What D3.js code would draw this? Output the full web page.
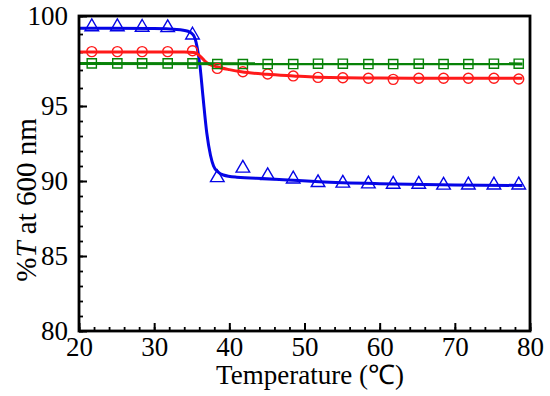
<!DOCTYPE html>
<html>
<head>
<meta charset="utf-8">
<script src="https://cdn.jsdelivr.net/npm/d3@7"></script>
<style>
  body { margin: 0; background: #fff; }
  svg { display: block; }
  text { font-family: "Liberation Serif", "Times New Roman", serif; fill: #000; }
</style>
</head>
<body>
<svg id="chart" width="550" height="396"></svg>
<script>
// ---- data ----
const xTicks = [20, 30, 40, 50, 60, 70, 80];
const yTicks = [80, 85, 90, 95, 100];

const tempPts = [21.7, 25.1, 28.4, 31.8, 35.1, 38.4, 41.8, 45.1, 48.5, 51.8, 55.1, 58.5, 61.8, 65.2, 68.5, 71.8, 75.2, 78.5];

const blueVals  = [99.4, 99.4, 99.37, 99.35, 98.94, 90.22, 90.85, 90.35, 90.13, 89.89, 89.85, 89.8, 89.78, 89.78, 89.72, 89.73, 89.73, 89.73];
const redVals   = [98.02, 98.02, 98.02, 98.02, 98.07, 97.09, 96.9, 96.78, 96.67, 96.59, 96.57, 96.54, 96.48, 96.54, 96.54, 96.54, 96.54, 96.5];
const greenVals = [97.37, 97.37, 97.37, 97.37, 97.37, 97.33, 97.33, 97.33, 97.33, 97.35, 97.35, 97.33, 97.33, 97.35, 97.33, 97.33, 97.35, 97.35];

// fitted curves
const blueFitT = [20, 30, 33, 34.5, 35.2, 35.7, 36.1, 36.5, 37.0, 37.5, 37.9, 38.5, 39.2, 41, 45, 48.5, 52, 60, 70, 79];
const blueFitV = [99.32, 99.3, 99.25, 99.15, 98.95, 98.3, 97.2, 95.5, 93.2, 91.7, 91.0, 90.6, 90.4, 90.25, 90.15, 90.05, 89.95, 89.82, 89.74, 89.7];
const redFitT  = [20, 34, 35.3, 35.8, 36.5, 37.0, 37.6, 38.3, 40, 41.6, 45, 48.5, 51.6, 60, 70, 79];
const redFitV  = [98.0, 98.0, 97.97, 97.88, 97.6, 97.4, 97.27, 97.18, 97.02, 96.9, 96.76, 96.67, 96.6, 96.55, 96.54, 96.54];
const greenFitT = [20, 79];
const greenFitV = [97.36, 97.34];

// ---- layout ----
const svg = d3.select("#chart");
const pL = 79, pR = 530, pT = 16, pB = 331;

const x = d3.scaleLinear().domain([20, 80]).range([pL, pR]);
const y = d3.scaleLinear().domain([80, 95, 100]).range([pB, 106, pT]);

const fontSize = 27;

// minor ticks
svg.append("g")
  .attr("transform", `translate(0,${pB})`)
  .call(d3.axisBottom(x).tickValues(d3.range(20, 81, 2)).tickSize(-4).tickFormat(""))
  .call(g => g.select(".domain").remove())
  .call(g => g.selectAll("line").attr("stroke-width", 1.8));
svg.append("g")
  .attr("transform", `translate(${pL},0)`)
  .call(d3.axisLeft(y).tickValues(d3.range(80, 101, 1)).tickSize(-4).tickFormat(""))
  .call(g => g.select(".domain").remove())
  .call(g => g.selectAll("line").attr("stroke-width", 1.8));

// major ticks
const gx = svg.append("g")
  .attr("transform", `translate(0,${pB})`)
  .call(d3.axisBottom(x).tickValues(xTicks).tickSize(-8).tickPadding(6).tickFormat(d3.format("d")));
gx.select(".domain").remove();
gx.selectAll("line").attr("stroke-width", 2);
gx.selectAll("text").attr("font-size", fontSize).attr("font-family", "Liberation Serif");

const gy = svg.append("g")
  .attr("transform", `translate(${pL},0)`)
  .call(d3.axisLeft(y).tickValues(yTicks).tickSize(-8).tickPadding(11).tickFormat(d3.format("d")));
gy.select(".domain").remove();
gy.selectAll("line").attr("stroke-width", 2);
gy.selectAll("text").attr("font-size", fontSize).attr("font-family", "Liberation Serif");

// clip
svg.append("clipPath").attr("id", "clip")
  .append("rect").attr("x", pL).attr("y", pT).attr("width", pR - pL).attr("height", pB - pT);

const line = d3.line().curve(d3.curveMonotoneX).x(d => x(d[0])).y(d => y(d[1]));

const series = [
  { color: "#0505e6", fitT: blueFitT, fitV: blueFitV, vals: blueVals, sym: d3.symbolTriangle, size: 80 },
  { color: "#ff1a1a", fitT: redFitT, fitV: redFitV, vals: redVals, sym: d3.symbolCircle, size: 78 },
  { color: "#078207", fitT: greenFitT, fitV: greenFitV, vals: greenVals, sym: d3.symbolSquare, size: 85 }
];

const plot = svg.append("g").attr("clip-path", "url(#clip)");

series.forEach(s => {
  const pts = s.fitT.map((t, i) => [t, s.fitV[i]]);
  plot.append("path")
    .attr("d", line(pts))
    .attr("fill", "none")
    .attr("stroke", s.color)
    .attr("stroke-width", 3);
});

series.forEach(s => {
  svg.append("g").selectAll("path")
    .data(tempPts.map((t, i) => [t, s.vals[i]]))
    .join("path")
    .attr("transform", d => `translate(${x(d[0])},${y(d[1])})`)
    .attr("d", d3.symbol().type(s.sym).size(s.size))
    .attr("fill", "none")
    .attr("stroke", s.color)
    .attr("stroke-width", 1.4);
});

// frame
svg.append("rect")
  .attr("x", pL).attr("y", pT)
  .attr("width", pR - pL).attr("height", pB - pT)
  .attr("fill", "none").attr("stroke", "#000").attr("stroke-width", 2.8);

// axis titles
svg.append("text")
  .attr("x", 310).attr("y", 384)
  .attr("text-anchor", "middle")
  .attr("font-size", fontSize)
  .text("Temperature (℃)");

const yt = svg.append("text")
  .attr("transform", `translate(36,200) rotate(-90)`)
  .attr("text-anchor", "middle")
  .attr("font-size", 29);
yt.append("tspan").text("%");
yt.append("tspan").attr("font-style", "italic").text("T");
yt.append("tspan").text(" at 600 nm");
</script>
</body>
</html>
